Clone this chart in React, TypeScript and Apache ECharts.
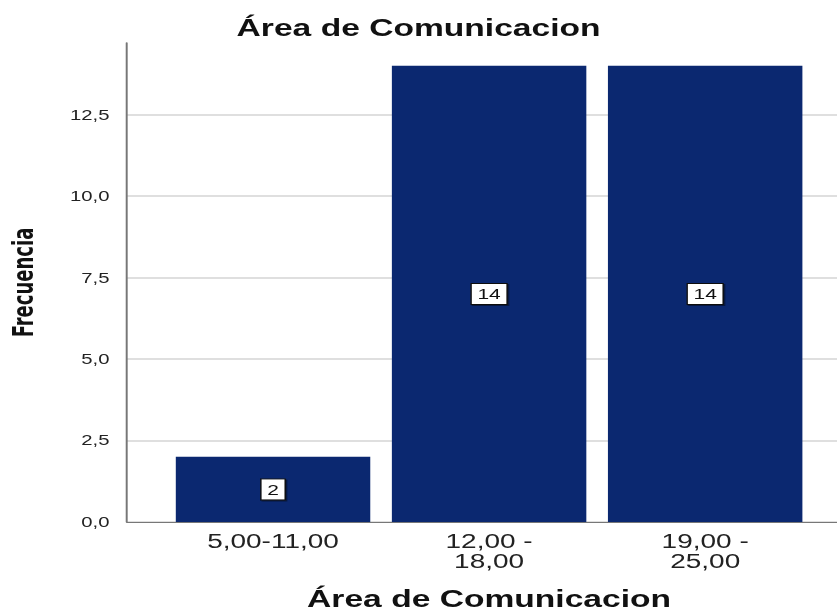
import React, { useEffect, useRef } from "react";
import * as echarts from "echarts";

const categories = ["5,00-11,00", "12,00 -\n18,00", "19,00 -\n25,00"];
const frequencies = [2, 14, 14];
const yTickStep = 2.5;
const yMax = 14.7;
const titleText = "Área de Comunicacion";
const xAxisTitle = "Área de Comunicacion";
const yAxisTitle = "Frecuencia";

const STRETCH = 1.4;
const FULL_W = 837;
const FULL_H = 611;
const W = FULL_W / STRETCH;

const FONT = "'Liberation Sans', Arial, sans-serif";

export default function App() {
  const ref = useRef<HTMLDivElement>(null);
  useEffect(() => {
    if (!ref.current) return;
    const chart = echarts.init(ref.current, null, { renderer: "svg" });
    const top = 43;
    const bottom = FULL_H - 522;
    chart.setOption({
      animation: false,
      backgroundColor: "#ffffff",
      textStyle: { fontFamily: FONT },
      title: {
        text: titleText,
        left: "center",
        top: 11,
        textStyle: { fontFamily: FONT, fontSize: 24, fontWeight: "bold", color: "#111" },
      },
      grid: [
        { left: 127 / STRETCH, right: 0, top, bottom, outerBoundsMode: "none" },
        { left: 165 / STRETCH, right: 24 / STRETCH, top, bottom, outerBoundsMode: "none" },
      ],
      xAxis: [
        {
          gridIndex: 0,
          type: "value",
          min: 0,
          max: 1,
          axisLine: { show: true, onZero: false, lineStyle: { color: "#777", width: 1.2 } },
          axisTick: { show: false },
          axisLabel: { show: false },
          splitLine: { show: false },
        },
        {
          gridIndex: 1,
          type: "category",
          data: categories,
          axisLine: { show: false },
          axisTick: { show: false },
          axisLabel: {
            fontFamily: FONT,
            fontSize: 20,
            lineHeight: 20,
            color: "#222",
            margin: 9.5,
            interval: 0,
          },
          name: xAxisTitle,
          nameLocation: "middle",
          nameGap: 65,
          nameTextStyle: { fontFamily: FONT, fontSize: 24, lineHeight: 24, fontWeight: "bold", color: "#111" },
        },
      ],
      yAxis: [
        {
          gridIndex: 0,
          type: "value",
          min: 0,
          max: yMax,
          interval: yTickStep,
          axisLine: { show: true, lineStyle: { color: "#777", width: 1.4 } },
          axisTick: { show: false },
          axisLabel: {
            fontFamily: FONT,
            fontSize: 14.5,
            color: "#222",
            margin: 12.5,
            showMaxLabel: false,
            formatter: (v: number) => v.toFixed(1).replace(".", ","),
          },
          splitLine: { show: true, showMaxLine: false, lineStyle: { color: "#d4d4d4", width: 1.6 } },
          name: yAxisTitle,
          nameLocation: "middle",
          nameGap: 64,
          nameRotate: 90,
          nameTextStyle: {
            fontFamily: "'Liberation Sans Narrow', 'DejaVu Sans Condensed', 'Liberation Sans', Arial, sans-serif",
            fontSize: 20,
            fontWeight: "bold",
            color: "#111",
          },
        },
        {
          gridIndex: 1,
          type: "value",
          min: 0,
          max: yMax,
          show: false,
          splitLine: { show: false },
        },
      ],
      series: [
        {
          type: "bar",
          xAxisIndex: 1,
          yAxisIndex: 1,
          data: frequencies,
          barCategoryGap: "10%",
          itemStyle: { color: "#0b2870" },
          label: {
            show: true,
            position: "inside",
            fontFamily: FONT,
            fontSize: 15,
            color: "#111",
            backgroundColor: "#ffffff",
            borderColor: "#111",
            borderWidth: 1,
            padding: [3, 4, 2, 4],
            shadowColor: "rgba(0,0,0,0.45)",
            shadowOffsetX: 1,
            shadowOffsetY: 1,
            shadowBlur: 1,
          },
        },
      ],
    });
    return () => chart.dispose();
  }, []);

  return (
    <div
      style={{
        position: "fixed",
        left: 0,
        top: 0,
        width: FULL_W,
        height: FULL_H,
        overflow: "hidden",
        background: "#fff",
      }}
    >
      <div
        ref={ref}
        style={{
          width: W,
          height: FULL_H,
          transform: `scaleX(${STRETCH})`,
          transformOrigin: "0 0",
        }}
      />
    </div>
  );
}
